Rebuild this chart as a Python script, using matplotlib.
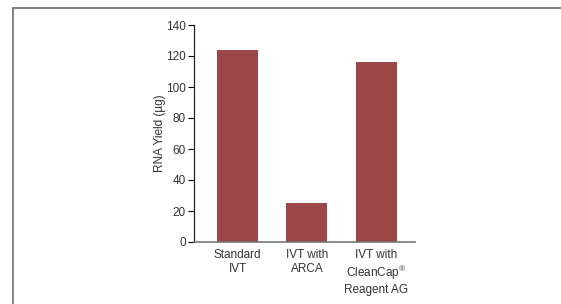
import matplotlib
matplotlib.use('Agg')
import matplotlib.pyplot as plt
from matplotlib.patches import Rectangle

categories = ['Standard\nIVT', 'IVT with\nARCA', 'IVT with\nCleanCap$^{\\circledR}$\nReagent AG']
yields = [124, 25, 116]
yticks = [0, 20, 40, 60, 80, 100, 120, 140]

plt.rcParams['font.family'] = ['Liberation Sans', 'DejaVu Sans']
plt.rcParams['mathtext.fontset'] = 'custom'
plt.rcParams['mathtext.rm'] = 'Liberation Sans'

fig = plt.figure(figsize=(5.61, 3.04), dpi=100)

# outer frame
fig.patches.append(Rectangle((13 / 561, -0.1), 1.2, 1 - 8 / 304 + 0.1,
                             transform=fig.transFigure, fill=False,
                             edgecolor='#6d6d6d', linewidth=1.2))

ax = fig.add_axes([194 / 561, 1 - 242 / 304, (415 - 194) / 561, (242 - 25) / 304])
ax.bar(range(len(yields)), yields, width=0.59, color='#9c4747')
ax.set_xlim(-0.63, 2.56)
ax.set_ylim(0, 140)
ax.set_yticks(yticks)
ax.set_xticks(range(len(categories)))
ax.set_xticklabels(categories, fontsize=8.5, color='#333333', linespacing=1.2)
ax.tick_params(axis='x', length=0, pad=5)
ax.tick_params(axis='y', length=4, width=0.8, labelsize=8.5, labelcolor='#333333', pad=2)
ax.set_ylabel('RNA Yield (µg)', fontsize=8.5, color='#333333', labelpad=0)

ax.spines['top'].set_visible(False)
ax.spines['right'].set_visible(False)
ax.spines['left'].set_color('#222222')
ax.spines['left'].set_linewidth(0.9)
ax.spines['bottom'].set_color('#777777')
ax.spines['bottom'].set_linewidth(1.2)

fig.savefig('out.png', dpi=100)
